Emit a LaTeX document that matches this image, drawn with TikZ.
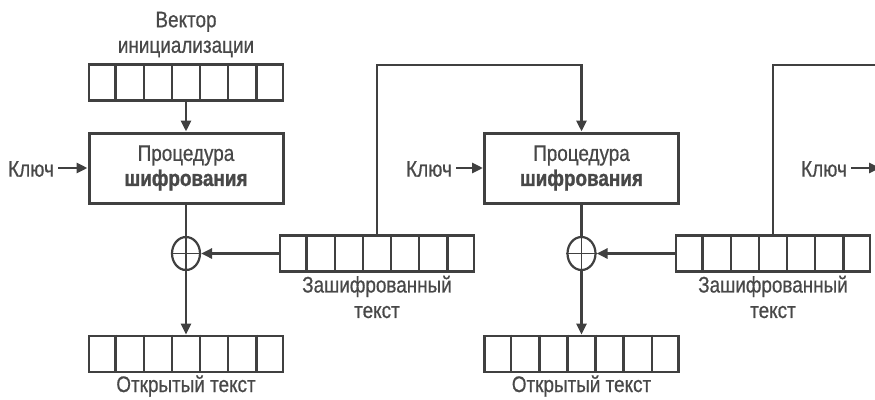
\documentclass[tikz,border=0pt]{standalone}
\usepackage{fontspec}
\setmainfont{Liberation Sans}[FakeStretch=0.84,FakeBold=0.6,BoldFeatures={FakeBold=1.2}]
\usetikzlibrary{arrows.meta,shapes.geometric,calc}
\definecolor{ink}{HTML}{404040}
\definecolor{txt}{HTML}{484848}

\begin{document}
\begin{tikzpicture}[x=1pt,y=-1pt,
  wire/.style={draw=ink,line width=2.8pt},
  arr/.style={wire,-{Triangle[length=11pt,width=10pt]}},
  reg/.style={draw=ink,line width=2.8pt,minimum width=194pt,minimum height=36pt,inner sep=0pt},
  proc/.style={draw=ink,line width=3pt,minimum width=194pt,minimum height=70pt,inner sep=0pt,
    align=center,text=txt,font=\fontsize{22.5}{25}\selectfont},
  lbl/.style={text=txt,font=\fontsize{22.5}{25.5}\selectfont,align=center,inner sep=0pt},
  xor/.style={ellipse,draw=ink,line width=2.2pt,minimum width=28pt,minimum height=33pt,inner sep=0pt},
  cell/.style={draw=ink,line width=2.5pt},
]
\path[use as bounding box] (0,0) rectangle (875,399);
\clip (0,0) rectangle (875,399);

% first stage: initialisation vector feeds the cipher
\node[lbl] (ivl) at (186,34.5) {Вектор\\инициализации};
\node[reg] (iv) at (186,82.5) {};
\node[proc] (b1) at (186,168) {Процедура\\\textbf{шифрования}};
\node[lbl] (k1) at (31,169) {Ключ};
\node[xor] (x1) at (186,253.5) {};
\node[reg] (p1) at (186,354) {};
\node[lbl] (p1l) at (186,386) {Открытый текст};
\node[reg] (c1) at (377,253.5) {};
\node[lbl] (c1l) at (377,297) {Зашифрованный\\текст};

% second stage
\node[proc] (b2) at (581.5,168) {Процедура\\\textbf{шифрования}};
\node[lbl] (k2) at (429,169) {Ключ};
\node[xor] (x2) at (581.5,253.5) {};
\node[reg] (p2) at (581.5,354) {};
\node[lbl] (p2l) at (581.5,386) {Открытый текст};
\node[reg] (c2) at (773,253.5) {};
\node[lbl] (c2l) at (773,297) {Зашифрованный\\текст};

% third stage (only its key input is visible)
\node[lbl] (k3) at (824,169) {Ключ};
\coordinate (b3w) at (880,168);
\coordinate (t1) at (0,65);
\coordinate (t2) at (900,65);

% register cells
\foreach \r in {iv,p1,p2,c1,c2}
  \foreach \k in {1,...,6}
    \draw[cell] ($(\r.north west)!\k/7!(\r.north east)$) -- ($(\r.south west)!\k/7!(\r.south east)$);

% XOR crosses
\foreach \x in {x1,x2} {
  \draw[ink,line width=1.8pt] (\x.north) -- (\x.south);
  \draw[ink,line width=1.8pt] (\x.west) -- (\x.east);
}

% connectors
\draw[arr] (iv.south) -- (b1.north);
\draw[arr] ([xshift=4pt]k1.east |- b1.west) -- (b1.west);
\draw[wire] (b1.south) -- (x1.north);
\draw[arr] (x1.south) -- (p1.north);
\draw[arr] (c1.west) -- (x1.east);
\draw[arr] (c1.north) -- (c1.north |- t1) -| (b2.north);

\draw[arr] ([xshift=4pt]k2.east |- b2.west) -- (b2.west);
\draw[wire] (b2.south) -- (x2.north);
\draw[arr] (x2.south) -- (p2.north);
\draw[arr] (c2.west) -- (x2.east);
\draw[wire] (c2.north) -- (c2.north |- t2) -- (t2);

\draw[arr] ([xshift=4pt]k3.east |- b3w) -- (b3w);
\end{tikzpicture}
\end{document}
